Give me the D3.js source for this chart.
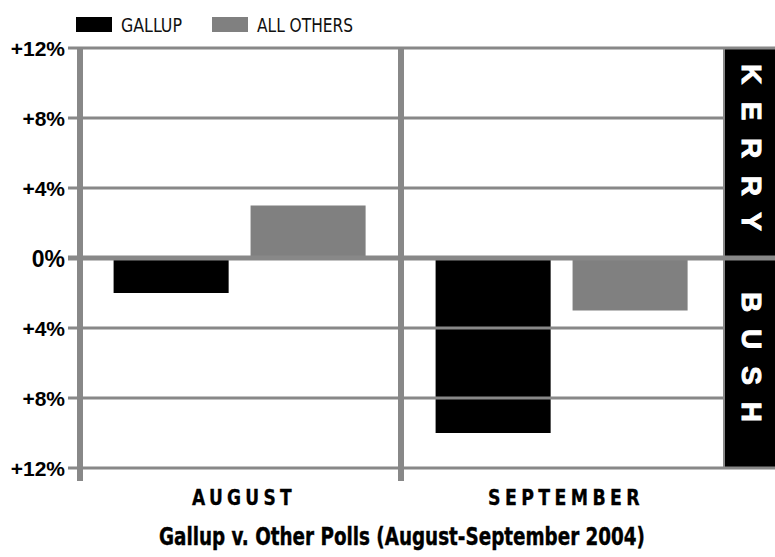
<!DOCTYPE html>
<html>
<head>
<meta charset="utf-8">
<script src="https://cdn.jsdelivr.net/npm/d3@7/dist/d3.min.js"></script>
<style>
  html, body { margin: 0; padding: 0; background: #fff; }
  svg { display: block; }
</style>
</head>
<body>
<svg id="chart" width="775" height="557"></svg>
<script>
// ---- data ----
const months = ["AUGUST", "SEPTEMBER"];
const seriesNames = ["GALLUP", "ALL OTHERS"];
const gallup = [-2, -10];      // + = Kerry lead, - = Bush lead
const allOthers = [3, -3];
const yTickValues = [12, 8, 4, 0, -4, -8, -12];
const yTickLabels = ["+12%", "+8%", "+4%", "0%", "+4%", "+8%", "+12%"];
const sideLabels = ["KERRY", "BUSH"];
const title = "Gallup v. Other Polls (August-September 2004)";

// ---- layout ----
const svg = d3.select("#chart");
const plotL = 80, plotR = 724, plotT = 48, plotB = 468, boxR = 775;
const lineGray = "#888888";
const barGray = "#808080";
const condensed = "'Liberation Sans Narrow', 'DejaVu Sans Condensed', 'Liberation Sans', sans-serif";
const sans = "'Liberation Sans', Arial, sans-serif";

const y = d3.scaleLinear().domain([-12, 12]).range([plotB, plotT]);
const x0 = d3.scaleBand().domain(months).range([plotL, plotR]).paddingInner(0).paddingOuter(0);
const x1 = d3.scaleBand().domain(seriesNames).range([0, x0.bandwidth()])
  .paddingInner(0.16).paddingOuter(0.2555).align(0.48);
const color = d3.scaleOrdinal().domain(seriesNames).range(["#000000", barGray]);

const rows = months.map((m, i) => ({ month: m, values: [
  { series: seriesNames[0], value: gallup[i] },
  { series: seriesNames[1], value: allOthers[i] }
]}));

// right-hand black box
svg.append("rect").attr("x", plotR + 1).attr("y", plotT - 1)
  .attr("width", boxR - plotR - 1).attr("height", plotB - plotT + 2).attr("fill", "#000");

// bars
const groups = svg.append("g").selectAll("g").data(rows).join("g")
  .attr("transform", d => `translate(${x0(d.month)},0)`);
groups.selectAll("rect").data(d => d.values).join("rect")
  .attr("x", d => x1(d.series))
  .attr("width", x1.bandwidth())
  .attr("y", d => y(Math.max(0, d.value)))
  .attr("height", d => Math.abs(y(d.value) - y(0)))
  .attr("fill", d => color(d.series));

// y axis labels
const yAxis = d3.axisLeft(y)
  .tickValues(yTickValues)
  .tickFormat((d, i) => yTickLabels[i])
  .tickSize(0)
  .tickPadding(15);
const ya = svg.append("g").attr("transform", `translate(${plotL},0)`).call(yAxis);
ya.select(".domain").remove();
ya.selectAll(".tick text")
  .attr("font-family", sans).attr("font-weight", "bold")
  .attr("font-size", d => d === 0 ? 23 : 21)
  .attr("fill", "#000")
  .attr("dy", "0.36em");

// gridlines
const grid = svg.append("g");
grid.selectAll("line").data(yTickValues).join("line")
  .attr("x1", plotL - 12)
  .attr("x2", d => (d === 0 || Math.abs(d) === 12) ? boxR : plotR)
  .attr("y1", d => y(d)).attr("y2", d => y(d))
  .attr("stroke", lineGray)
  .attr("stroke-width", d => d === 0 ? 5 : 3);

// vertical lines: left axis, month divider, right border
svg.append("line").attr("x1", plotL).attr("x2", plotL).attr("y1", plotT - 1).attr("y2", plotB + 13)
  .attr("stroke", lineGray).attr("stroke-width", 6);
svg.append("line").attr("x1", x0(months[1]) - 1).attr("x2", x0(months[1]) - 1).attr("y1", plotT - 1).attr("y2", plotB + 13)
  .attr("stroke", lineGray).attr("stroke-width", 6);
svg.append("line").attr("x1", plotR).attr("x2", plotR).attr("y1", plotT).attr("y2", plotB)
  .attr("stroke", lineGray).attr("stroke-width", 2);

// month labels
svg.append("g").selectAll("text").data(months).join("text")
  .attr("x", d => x0(d) + x0.bandwidth() / 2 + 3)
  .attr("y", 505)
  .attr("text-anchor", "middle")
  .attr("font-family", condensed).attr("font-weight", "bold").attr("font-size", 22)
  .attr("stroke", "#000").attr("stroke-width", 0.3)
  .attr("letter-spacing", "5px")
  .attr("textLength", d => d.length === 6 ? 104 : 156)
  .attr("lengthAdjust", "spacingAndGlyphs")
  .text(d => d);

// side labels (rotated, spaced)
const sideStart = [64, 292];
const sideLen = [167, 130];
svg.append("g").selectAll("text").data(sideLabels).join("text")
  .attr("transform", (d, i) => `translate(742,${sideStart[i]}) rotate(90)`)
  .attr("font-family", sans).attr("font-weight", "bold").attr("font-size", 28)
  .attr("fill", "#fff").attr("stroke", "#fff").attr("stroke-width", 1)
  .attr("textLength", (d, i) => sideLen[i])
  .attr("lengthAdjust", "spacing")
  .text(d => d);

// legend
const legend = svg.append("g");
const legX = [76, 212], legTextX = [121, 257], legLen = [61, 96];
legend.selectAll("rect").data(seriesNames).join("rect")
  .attr("x", (d, i) => legX[i]).attr("y", 17).attr("width", 36).attr("height", 15)
  .attr("fill", d => color(d));
legend.selectAll("text").data(seriesNames).join("text")
  .attr("x", (d, i) => legTextX[i]).attr("y", 32)
  .attr("font-family", condensed).attr("font-size", 20).attr("fill", "#111")
  .attr("textLength", (d, i) => legLen[i]).attr("lengthAdjust", "spacingAndGlyphs")
  .text(d => d);

// title
svg.append("text")
  .attr("x", (plotL + plotR) / 2).attr("y", 545)
  .attr("text-anchor", "middle")
  .attr("font-family", condensed).attr("font-weight", "bold").attr("font-size", 25)
  .attr("stroke", "#000").attr("stroke-width", 0.4)
  .attr("textLength", 486).attr("lengthAdjust", "spacingAndGlyphs")
  .text(title);
</script>
</body>
</html>
